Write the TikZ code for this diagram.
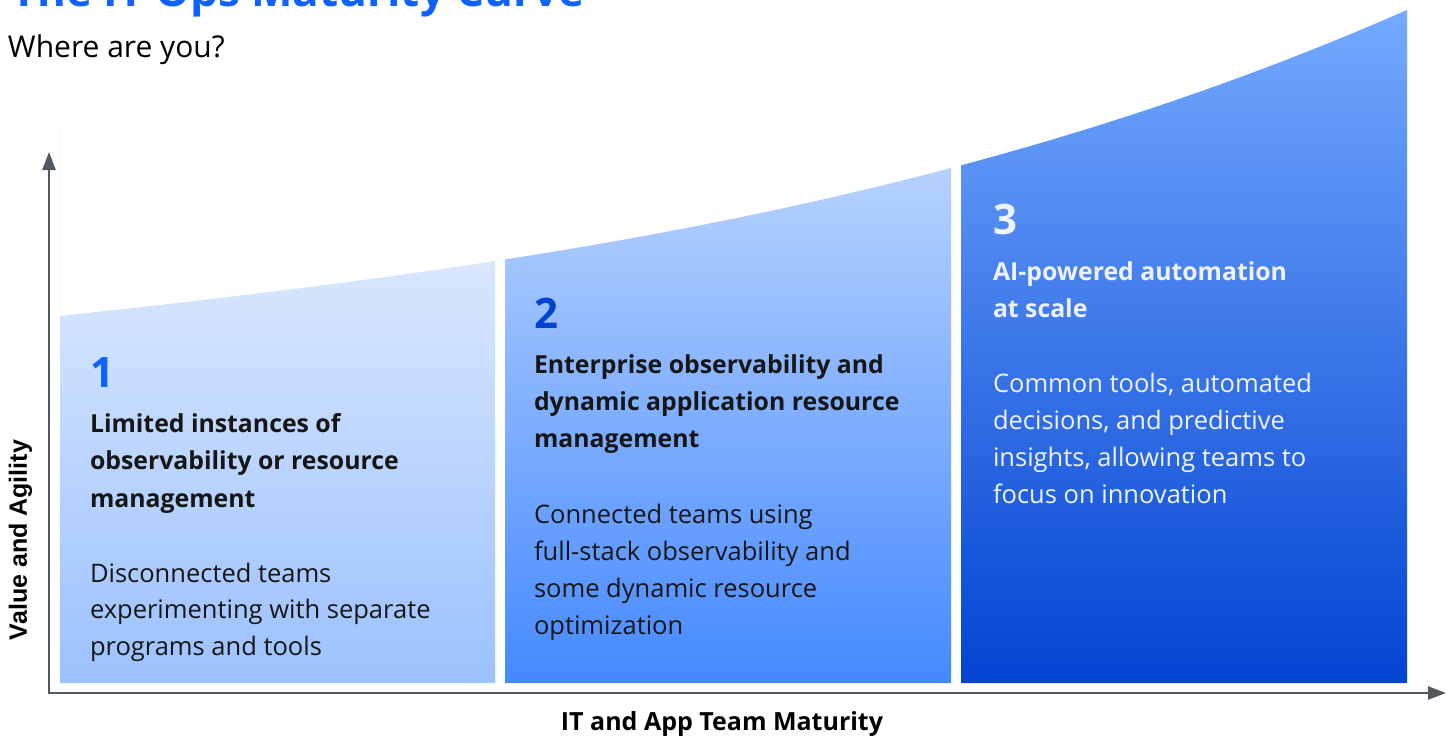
\documentclass[tikz,border=0pt]{standalone}
\usepackage{fontspec}
\setmainfont{Open Sans}
\newfontfamily\arialfont{Liberation Sans}
\usetikzlibrary{arrows.meta}
\definecolor{axisgray}{HTML}{525860}
\definecolor{ibmblue}{HTML}{0F62FE}
\definecolor{darkblue}{HTML}{0043CE}
\definecolor{inktext}{HTML}{161616}
\definecolor{c1top}{HTML}{D9E7FE}
\definecolor{c1bot}{HTML}{9BC1FE}
\definecolor{c2top}{HTML}{B6D2FE}
\definecolor{c2bot}{HTML}{4589FF}
\definecolor{c3top}{HTML}{74AAFF}
\definecolor{c3bot}{HTML}{0343D2}
\definecolor{paletext}{HTML}{EEF3FF}
\begin{document}
\begin{tikzpicture}[x=1pt,y=-1pt,
  declare function={u(\x)=(\x-60)/1000; cy(\x)=316-108.54*u(\x)-18.79*u(\x)^2-51.43*u(\x)^3;},
  axisline/.style={draw=axisgray,line width=2.4pt,{Triangle[length=18pt,width=13pt]}-{Triangle[length=18pt,width=13pt]}},
  txt/.style={anchor=base west,inner sep=0pt,outer sep=0pt},
  numstyle/.style={txt,font=\fontsize{42}{42}\selectfont\bfseries},
  headstyle/.style={txt,text=inktext},
  bodystyle/.style={txt,text=inktext},
]
\useasboundingbox (0,0) rectangle (1453,736);
% faint edge
\draw[draw=blue!4,line width=1pt] (60,130) -- (60,316);
% columns
\shade[top color=c1top,bottom color=c1bot] (60,683) -- plot[domain=60:495,samples=40] (\x,{cy(\x)}) -- (495,683) -- cycle;
\shade[top color=c2top,bottom color=c2bot] (505,683) -- plot[domain=505:951,samples=40] (\x,{cy(\x)}) -- (951,683) -- cycle;
\shade[top color=c3top,bottom color=c3bot] (961,683) -- plot[domain=961:1407,samples=40] (\x,{cy(\x)}) -- (1407,683) -- cycle;
% axes
\coordinate (ytip) at (49,152);
\coordinate (O) at (49,693);
\coordinate (xtip) at (1446,693);
\draw[axisline] (ytip) -- (O) -- (xtip);
% title
\node[txt,text=ibmblue,font=\fontsize{44}{44}\selectfont\bfseries] (title) at (12,6) {The IT Ops Maturity Curve};
\node[txt,text=black,font=\fontsize{30}{30}\selectfont] (sub) at (8,57) {Where are you?};
% axis labels
\node[anchor=base,inner sep=0pt,text=black,font=\fontsize{25}{25}\selectfont\bfseries] (xlab) at (722,730) {IT and App Team Maturity};
\node[anchor=base,inner sep=0pt,rotate=90,text=black,font=\arialfont\fontsize{25}{25}\selectfont\bfseries] (ylab) at (27,540) {Value and Agility};
% column 1
\node[numstyle,text=ibmblue] (n1) at (90,387) {1};
\node[headstyle] (h1) at (90,432) {\parbox[t]{400pt}{\fontsize{24.8}{37.5}\selectfont\bfseries Limited instances of\\observability or resource\\management}};
\node[bodystyle] (b1) at (90,582) {\parbox[t]{400pt}{\fontsize{25.5}{36.5}\selectfont Disconnected teams\\experimenting with separate\\programs and tools}};
% column 2
\node[numstyle,text=darkblue] (n2) at (534,328) {2};
\node[headstyle] (h2) at (534,373) {\parbox[t]{420pt}{\fontsize{24.8}{37}\selectfont\bfseries Enterprise observability and\\dynamic application resource\\management}};
\node[bodystyle] (b2) at (534,523) {\parbox[t]{420pt}{\fontsize{25.5}{37}\selectfont Connected teams using\\full-stack observability and\\some dynamic resource\\optimization}};
% column 3
\node[numstyle,text=paletext] (n3) at (993,234) {3};
\node[headstyle,text=paletext] (h3) at (993,280) {\parbox[t]{420pt}{\fontsize{24.8}{37}\selectfont\bfseries AI-powered automation\\at scale}};
\node[bodystyle,text=paletext] (b3) at (993,392) {\parbox[t]{420pt}{\fontsize{25.5}{37.3}\selectfont Common tools, automated\\decisions, and predictive\\insights, allowing teams to\\focus on innovation}};
\end{tikzpicture}
\end{document}
